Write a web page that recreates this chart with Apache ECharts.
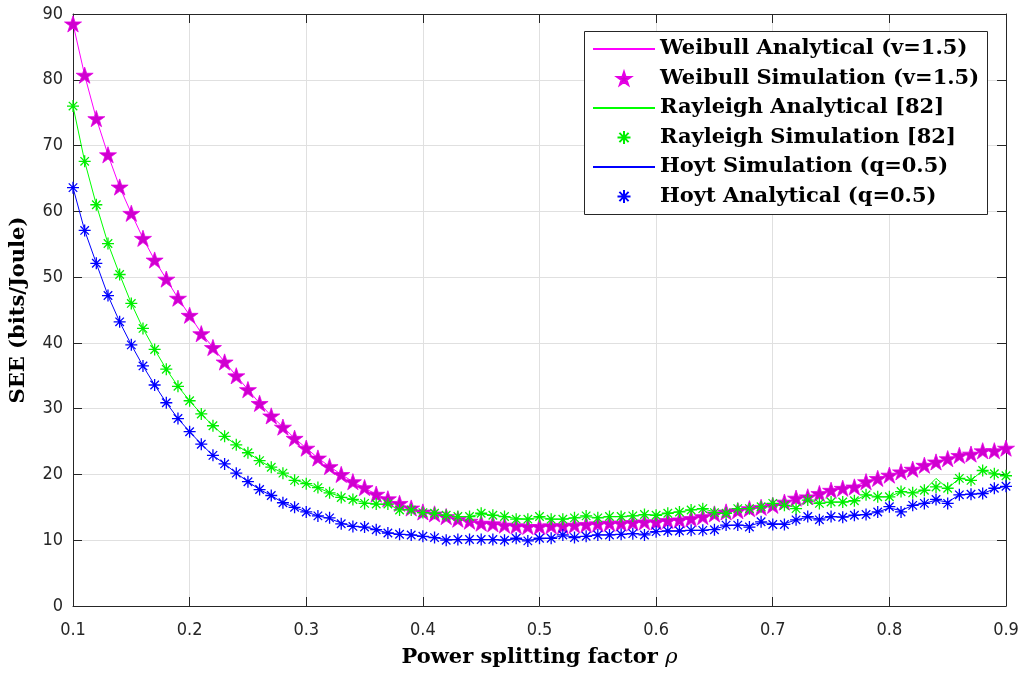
<!DOCTYPE html>
<html>
<head>
<meta charset="utf-8">
<script src="https://cdn.jsdelivr.net/npm/echarts@6/dist/echarts.min.js"></script>
<style>html,body{margin:0;padding:0;background:#fff}#c{width:1024px;height:675px}</style>
</head>
<body>
<div id="c"></div>
<script>
var rho = [0.10,0.11,0.12,0.13,0.14,0.15,0.16,0.17,0.18,0.19,
0.20,0.21,0.22,0.23,0.24,0.25,0.26,0.27,0.28,0.29,
0.30,0.31,0.32,0.33,0.34,0.35,0.36,0.37,0.38,0.39,
0.40,0.41,0.42,0.43,0.44,0.45,0.46,0.47,0.48,0.49,
0.50,0.51,0.52,0.53,0.54,0.55,0.56,0.57,0.58,0.59,
0.60,0.61,0.62,0.63,0.64,0.65,0.66,0.67,0.68,0.69,
0.70,0.71,0.72,0.73,0.74,0.75,0.76,0.77,0.78,0.79,
0.80,0.81,0.82,0.83,0.84,0.85,0.86,0.87,0.88,0.89,0.90];

var weibullAnalytical = [88.5,80.7,74.1,68.6,63.7,59.7,55.9,52.6,49.7,46.8,
44.2,41.5,39.3,37.1,35.0,32.9,30.8,28.9,27.2,25.5,
24.0,22.5,21.2,20.0,18.9,17.9,17.0,16.2,15.5,14.9,
14.3,13.9,13.5,13.2,12.9,12.7,12.5,12.3,12.2,12.1,
12.1,12.2,12.2,12.3,12.4,12.5,12.6,12.6,12.7,12.8,
12.9,13.0,13.1,13.3,13.6,14.0,14.3,14.5,14.8,15.0,
15.3,15.8,16.3,16.6,17.1,17.6,17.9,18.2,18.9,19.4,
19.9,20.4,20.8,21.4,21.9,22.4,22.9,23.1,23.6,23.7,24.0];
var weibullSimulation = [88.5,80.7,74.1,68.6,63.7,59.7,55.9,52.6,49.7,46.8,
44.2,41.4,39.3,37.1,35.0,32.9,30.8,28.9,27.2,25.5,
24.0,22.5,21.2,20.0,18.9,18.0,17.0,16.3,15.6,14.9,
14.3,14.0,13.6,13.2,12.9,12.6,12.5,12.3,12.2,12.1,
12.1,12.2,12.2,12.3,12.4,12.5,12.6,12.6,12.7,12.8,
12.8,13.0,13.1,13.3,13.6,14.0,14.3,14.5,14.8,15.0,
15.3,15.8,16.4,16.6,17.1,17.6,17.9,18.1,18.9,19.4,
19.9,20.4,20.8,21.4,21.9,22.4,22.9,23.1,23.6,23.6,24.0];

var rayleighAnalytical = [76.0,67.6,61.0,55.1,50.4,46.0,42.2,39.0,36.0,33.4,
31.2,29.2,27.4,25.8,24.5,23.3,22.1,21.1,20.2,19.2,
18.6,18.0,17.2,16.6,16.2,15.7,15.5,15.4,14.7,14.6,
14.2,14.1,13.8,13.6,13.6,14.0,13.8,13.6,13.3,13.2,
13.5,13.2,13.2,13.4,13.6,13.4,13.6,13.6,13.7,13.9,
13.8,14.1,14.3,14.6,14.8,14.3,14.2,14.8,14.8,15.1,
15.6,15.3,15.0,16.1,15.6,15.8,15.8,16.0,16.9,16.6,
16.6,17.4,17.2,17.6,19.4,17.9,19.4,19.1,20.6,20.1,19.8];
var rayleighSimulation = [76.0,67.6,61.0,55.1,50.4,46.0,42.2,39.0,36.0,33.4,
31.2,29.2,27.4,25.8,24.5,23.3,22.1,21.1,20.2,19.1,
18.6,18.0,17.2,16.5,16.2,15.6,15.5,15.5,14.6,14.6,
14.2,14.1,13.8,13.6,13.6,14.1,13.8,13.6,13.2,13.2,
13.6,13.2,13.2,13.4,13.7,13.4,13.6,13.6,13.7,13.9,
13.8,14.1,14.3,14.6,14.8,14.2,14.1,14.8,14.8,15.1,
15.6,15.3,14.8,16.1,15.6,15.8,15.8,16.0,16.9,16.6,
16.6,17.4,17.2,17.6,18.1,17.9,19.4,19.1,20.6,20.1,19.8];

var hoytSimulation = [63.6,57.1,52.1,47.2,43.2,39.7,36.5,33.6,30.9,28.5,
26.5,24.6,22.9,21.6,20.2,18.9,17.7,16.8,15.7,15.0,
14.3,13.7,13.3,12.6,12.1,12.0,11.6,11.1,10.9,10.8,
10.6,10.4,10.1,10.1,10.1,10.1,10.1,10.0,10.2,10.0,
10.2,10.3,10.7,10.5,10.6,10.8,10.8,10.9,11.0,10.9,
11.3,11.4,11.4,11.5,11.5,11.7,12.2,12.3,12.2,12.7,
12.5,12.5,13.1,13.5,13.2,13.6,13.5,13.8,13.9,14.3,
14.9,14.5,15.3,15.6,16.1,15.8,16.9,17.0,17.1,17.8,18.2];
var hoytAnalytical = [63.6,57.1,52.1,47.2,43.2,39.7,36.5,33.6,30.9,28.5,
26.5,24.6,22.9,21.6,20.2,18.9,17.7,16.8,15.7,15.0,
14.3,13.7,13.4,12.5,12.1,12.0,11.6,11.1,10.9,10.8,
10.6,10.4,10.0,10.1,10.1,10.1,10.1,10.0,10.3,9.9,
10.3,10.3,10.8,10.4,10.6,10.8,10.8,10.9,11.0,10.8,
11.3,11.4,11.4,11.5,11.5,11.6,12.3,12.3,12.0,12.8,
12.4,12.4,13.1,13.6,13.1,13.6,13.5,13.8,13.9,14.3,
15.1,14.3,15.3,15.6,16.2,15.6,16.9,17.0,17.1,17.9,18.2];

var xTicks = [0.1,0.2,0.3,0.4,0.5,0.6,0.7,0.8,0.9];
var yTicks = [0,10,20,30,40,50,60,70,80,90];

var names = ['Weibull Analytical (v=1.5)','Weibull Simulation (v=1.5)','Rayleigh Analytical [82]','Rayleigh Simulation [82]','Hoyt Simulation (q=0.5)','Hoyt Analytical (q=0.5)'];

function pairs(ys){ return rho.map(function(x,i){ return [x, ys[i]]; }); }

var STAR = 'path://M0,-100 L22.45,-30.9 L95.1,-30.9 L36.3,11.8 L58.8,80.9 L0,38.2 L-58.8,80.9 L-36.3,11.8 L-95.1,-30.9 L-22.45,-30.9 Z';
var AST = 'path://M0,-100 L0,100 M-100,0 L100,0 M-70.7,-70.7 L70.7,70.7 M-70.7,70.7 L70.7,-70.7';

var tickFont = "'Liberation Sans Narrow','DejaVu Sans Condensed',sans-serif";
var serif = "'DejaVu Serif',serif";

var chart = echarts.init(document.getElementById('c'), null, {renderer:'canvas'});

function lineSeries(name, ys, color){
  return {name:name, type:'line', data:pairs(ys), symbol:'none', lineStyle:{color:color,width:1}, itemStyle:{color:color}, z:2, animation:false};
}
function markSeries(name, ys, sym, size, fill, stroke, bw){
  return {name:name, type:'scatter', data:pairs(ys), symbol:sym, symbolSize:size, symbolKeepAspect:true,
    itemStyle:{color:fill, borderColor:stroke, borderWidth:bw, opacity:1}, z:3, animation:false};
}

var legendData = [
  {name:names[0], itemStyle:{opacity:0}},
  {name:names[1], icon:STAR},
  {name:names[2], itemStyle:{opacity:0}},
  {name:names[3], icon:AST},
  {name:names[4], itemStyle:{opacity:0}},
  {name:names[5], icon:AST}
];

var option = {
  backgroundColor:'#ffffff',
  animation:false,
  grid:{left:72, right:18, top:14, bottom:69, containLabel:false},
  xAxis:[{
    type:'value', min:0.1, max:0.9, interval:0.1,
    name:'{a|Power splitting factor }{b|\u03c1}', nameLocation:'middle', nameGap:41,
    nameTextStyle:{fontFamily:serif, fontWeight:'bold', fontSize:21, color:'#000',
      rich:{a:{fontFamily:serif, fontWeight:'bold', fontSize:21, color:'#000'},
            b:{fontFamily:serif, fontStyle:'italic', fontWeight:'normal', fontSize:21, color:'#000'}}},
    axisLine:{show:true, onZero:false, lineStyle:{color:'#262626', width:1}},
    axisTick:{show:true, inside:true, length:9, lineStyle:{color:'#262626'}},
    axisLabel:{fontFamily:tickFont, fontSize:18, color:'#262626', margin:15, formatter:function(v){return (Math.round(v*10)/10).toFixed(1);}},
    splitLine:{show:true, lineStyle:{color:'#e0e0e0', width:1}}
  },{
    type:'value', position:'top', min:0.1, max:0.9, interval:0.1,
    axisLine:{show:true, onZero:false, lineStyle:{color:'#262626', width:1}},
    axisTick:{show:true, inside:true, length:9, lineStyle:{color:'#262626'}},
    axisLabel:{show:false}, splitLine:{show:false}
  }],
  yAxis:[{
    type:'value', min:0, max:90, interval:10,
    name:'SEE (bits/Joule)', nameLocation:'middle', nameGap:44,
    nameTextStyle:{fontFamily:serif, fontWeight:'bold', fontSize:21, color:'#000'},
    axisLine:{show:true, onZero:false, lineStyle:{color:'#262626', width:1}},
    axisTick:{show:true, inside:true, length:9, lineStyle:{color:'#262626'}},
    axisLabel:{fontFamily:tickFont, fontSize:18, color:'#262626', margin:10},
    splitLine:{show:true, lineStyle:{color:'#e0e0e0', width:1}}
  },{
    type:'value', position:'right', min:0, max:90, interval:10,
    axisLine:{show:true, onZero:false, lineStyle:{color:'#262626', width:1}},
    axisTick:{show:true, inside:true, length:9, lineStyle:{color:'#262626'}},
    axisLabel:{show:false}, splitLine:{show:false}
  }],
  graphic:[{
    type:'rect', z:3, left:584, top:31,
    shape:{width:403, height:183},
    style:{fill:'#ffffff', stroke:'#262626', lineWidth:1}
  }],
  legend:{
    show:true, orient:'vertical', left:592, top:38, padding:0,
    itemWidth:62, itemHeight:13, itemGap:7.5, z:5,
    textStyle:{fontFamily:serif, fontWeight:'bold', fontSize:21, color:'#000', lineHeight:22},
    data:legendData
  },
  series:[
    lineSeries(names[0], weibullAnalytical, '#ff00ff'),
    markSeries(names[1], weibullSimulation, STAR, 17, '#cf00cf', '#e600e6', 0.8),
    lineSeries(names[2], rayleighAnalytical, '#00ff00'),
    markSeries(names[3], rayleighSimulation, AST, 12, 'rgba(0,0,0,0)', '#00ee00', 1.3),
    lineSeries(names[4], hoytSimulation, '#0000ff'),
    markSeries(names[5], hoytAnalytical, AST, 12, 'rgba(0,0,0,0)', '#0000ff', 1.3)
  ]
};
chart.setOption(option);
</script>
</body>
</html>
